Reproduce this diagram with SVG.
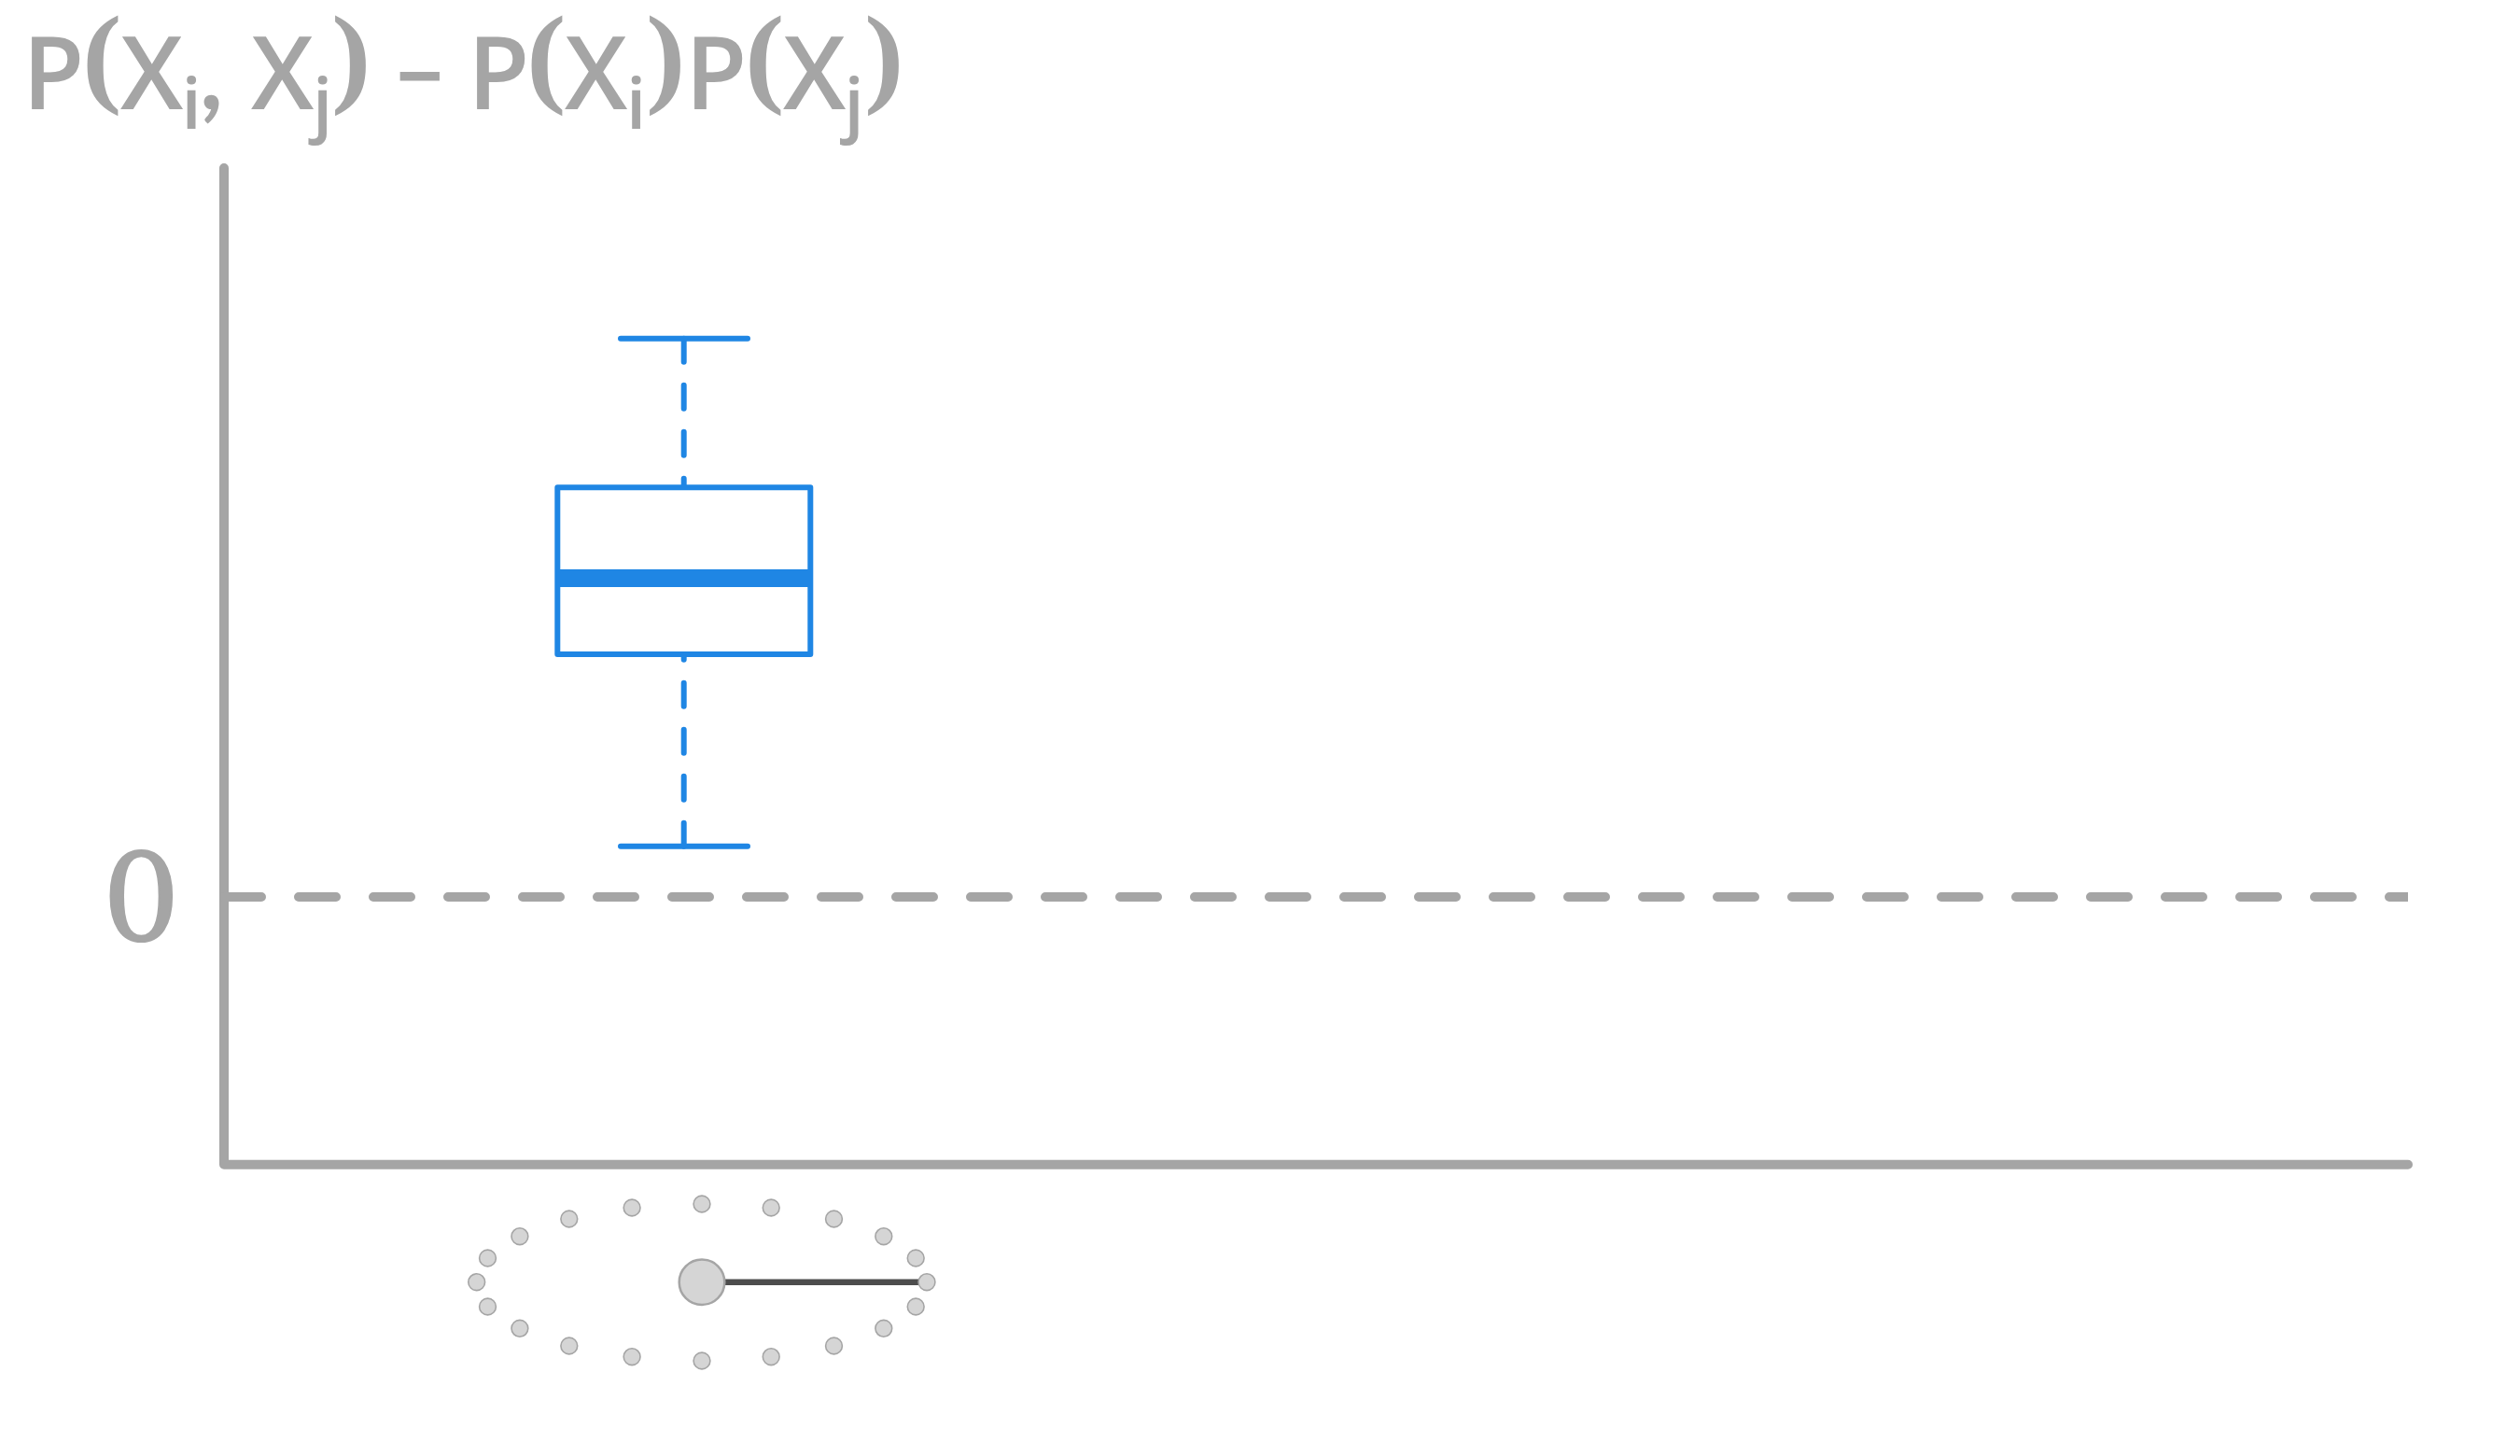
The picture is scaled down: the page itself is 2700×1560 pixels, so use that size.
<svg xmlns="http://www.w3.org/2000/svg" width="2700" height="1560" viewBox="0 0 2700 1560">
<style>
.ax{fill:none;stroke:#a5a5a5;stroke-width:10;stroke-linecap:round;stroke-linejoin:round}
.dz{stroke-dasharray:40 40}
.bl{fill:none;stroke:#1f86e4;stroke-width:6;stroke-linecap:round;stroke-linejoin:round}
.wd{stroke-dasharray:25 25}
.s{fill:#d5d5d5;stroke:#a5a5a5;stroke-width:1.6}
.t{fill:#a5a5a5;font-family:"Open Sans",sans-serif;font-size:108px;font-weight:600}
.c{fill:#a5a5a5;font-family:"Lato",sans-serif;font-size:107px;font-weight:700}
.p{fill:#a5a5a5;font-family:"Liberation Serif",serif;font-size:118px;font-weight:700}
.sub{fill:#a5a5a5;font-family:"Open Sans",sans-serif;font-size:76px;font-weight:600}
</style>
<defs><clipPath id="c"><rect x="230" y="940" width="2350" height="40"/></clipPath></defs>
<rect width="2700" height="1560" fill="#fff"/>
<g id="connectors">
<path class="ax" d="M240 180V1247.7H2580"/>
<path class="ax dz" clip-path="url(#c)" d="M240 961H2620"/>
<path class="bl wd" d="M732.7 362.7V522"/>
<path class="bl wd" d="M732.7 906.7V701"/>
<path d="M752 1373.7H993" fill="none" stroke="#4d4d4d" stroke-width="6.5"/>
</g>
<g id="box">
<path class="bl" d="M665 362.7H801M665 906.7H801"/>
<rect class="bl" x="597.3" y="522.3" width="271" height="178.7"/>
<rect x="597" y="610" width="271" height="19" fill="#1f86e4"/>
</g>
<g id="formula">
<text class="t" transform="translate(24,117)">P</text>
<text class="p" transform="translate(88,99) scale(1.08,1)">(</text>
<text class="t" transform="translate(129,117)">X</text>
<text class="sub" transform="translate(194.5,138)">i</text>
<text class="c" transform="translate(214,117)">,</text>
<text class="t" transform="translate(269,117)">X</text>
<text class="sub" transform="translate(335,138)">j</text>
<text class="p" transform="translate(355,99) scale(1.08,1)">)</text>
<text class="t" transform="translate(424.5,120) scale(.82,1)">−</text>
<text class="t" transform="translate(501,117)">P</text>
<text class="p" transform="translate(564,99) scale(1.08,1)">(</text>
<text class="t" transform="translate(605,117)">X</text>
<text class="sub" transform="translate(671,138)">i</text>
<text class="p" transform="translate(692,99) scale(1.08,1)">)</text>
<text class="t" transform="translate(734,117)">P</text>
<text class="p" transform="translate(798,99) scale(1.08,1)">(</text>
<text class="t" transform="translate(839,117)">X</text>
<text class="sub" transform="translate(904.5,138)">j</text>
<text class="p" transform="translate(926,99) scale(1.08,1)">)</text>
</g>
<g id="zero"><text x="110" y="1007" style="fill:#a5a5a5;stroke:#a5a5a5;stroke-width:2;font-family:'DejaVu Serif',serif;font-size:130px">0</text></g>
<g id="hub"><circle class="s" style="stroke-width:2.5" cx="752" cy="1373.7" r="24.3"/></g>
<g id="dots">
<circle class="s" cx="510.7" cy="1373.7" r="8.9"/>
<circle class="s" cx="522.5" cy="1348" r="8.9"/>
<circle class="s" cx="556.9" cy="1324.7" r="8.9"/>
<circle class="s" cx="609.8" cy="1306" r="8.9"/>
<circle class="s" cx="677.1" cy="1294" r="8.9"/>
<circle class="s" cx="752" cy="1290" r="8.9"/>
<circle class="s" cx="826.2" cy="1294" r="8.9"/>
<circle class="s" cx="893.5" cy="1306" r="8.9"/>
<circle class="s" cx="946.8" cy="1324.7" r="8.9"/>
<circle class="s" cx="981.2" cy="1348" r="8.9"/>
<circle class="s" cx="993" cy="1373.7" r="8.9"/>
<circle class="s" cx="981.2" cy="1400" r="8.9"/>
<circle class="s" cx="946.8" cy="1423.3" r="8.9"/>
<circle class="s" cx="893.5" cy="1442" r="8.9"/>
<circle class="s" cx="826.2" cy="1453.7" r="8.9"/>
<circle class="s" cx="752" cy="1458" r="8.9"/>
<circle class="s" cx="677.1" cy="1453.7" r="8.9"/>
<circle class="s" cx="609.8" cy="1442" r="8.9"/>
<circle class="s" cx="556.9" cy="1423.3" r="8.9"/>
<circle class="s" cx="522.5" cy="1400" r="8.9"/>
</g>
</svg>
